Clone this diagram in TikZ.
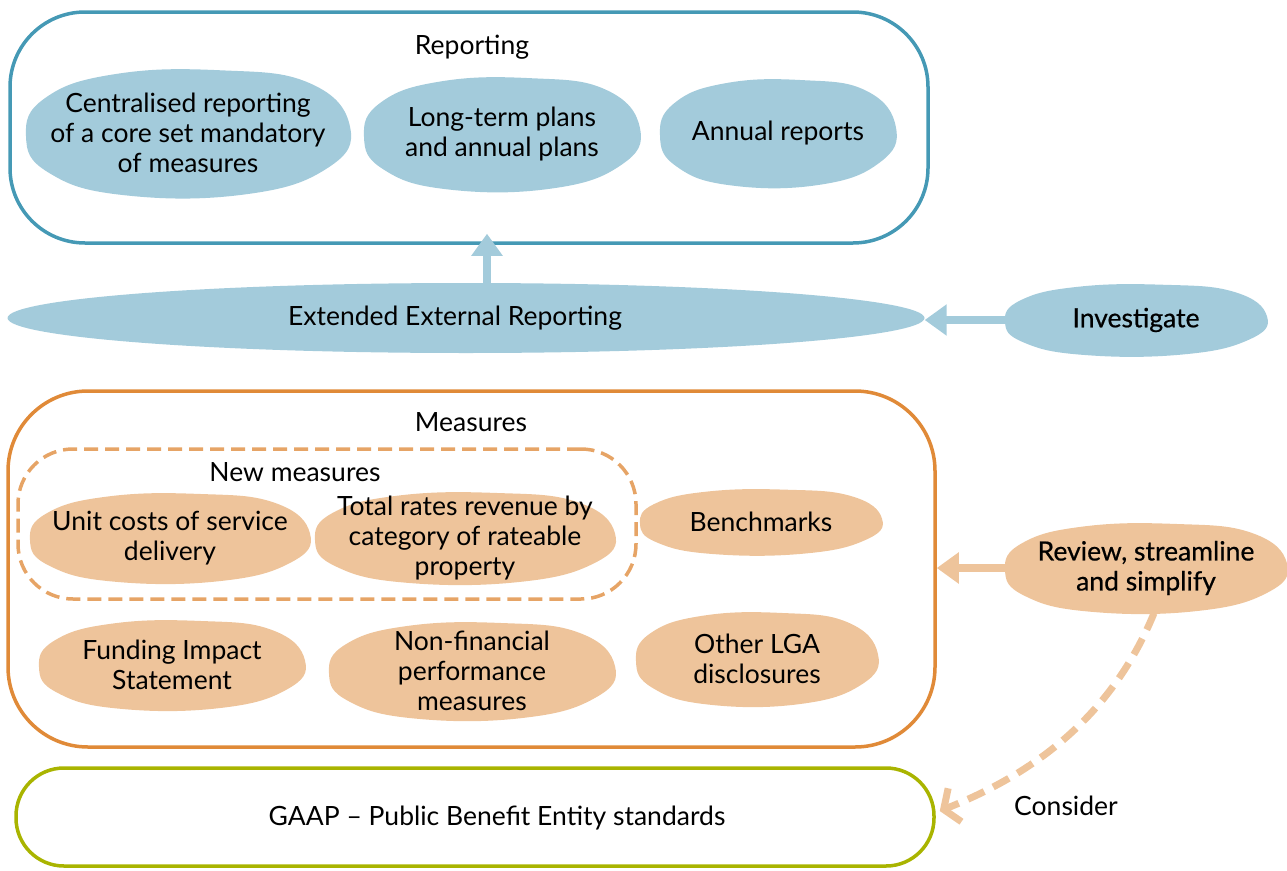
\documentclass[tikz,border=0pt]{standalone}
\usepackage{fontspec}
\setmainfont{Lato}
\newfontfamily\medfont[FakeBold=0.6]{Lato}
\usetikzlibrary{arrows.meta,shapes.geometric,calc}
\definecolor{bfill}{HTML}{A3CBDB}
\definecolor{bline}{HTML}{4599B5}
\definecolor{ofill}{HTML}{EEC49B}
\definecolor{oline}{HTML}{E08A38}
\definecolor{odash}{HTML}{E6A466}
\definecolor{gline}{HTML}{A9B400}
\newcommand\myblob[7]{%
  \fill[#6, shift={(#2,#3)}, x=#4pt, y=-#5pt] plot[smooth cycle, tension=0.75] coordinates
    {(-1,0.05) (-0.88,-0.55) (-0.45,-0.92) (0.2,-0.98) (0.75,-0.78) (1,-0.1) (0.86,0.55) (0.35,0.96) (-0.4,0.97) (-0.86,0.62)};
  \node[txt, minimum width=2*#4pt, minimum height=2*#5pt] (#1) at (#2,#3) {#7};
}
\begin{document}
\begin{tikzpicture}[x=1pt,y=-1pt,
  txt/.style={font=\fontsize{26.5}{30}\selectfont, align=center, inner sep=0pt},
  box/.style={draw, line width=3.5pt, minimum width=#1, inner sep=0pt},
  barrow/.style={draw=bfill, line width=8pt, -{Triangle[width=30pt,length=22pt]}, fill=bfill},
  oarrow/.style={draw=ofill, line width=8pt, -{Triangle[width=30pt,length=22pt]}, fill=ofill},
  darrow/.style={draw=ofill, line width=7pt, dash pattern=on 18pt off 10pt, -{Straight Barb[length=12pt,width=36pt]}}]
\useasboundingbox (0,0) rectangle (1287,870);
% containers
\node[box=918pt, draw=bline, minimum height=231pt, rounded corners=75pt] (rep) at (469,127.5) {};
\node[box=927pt, draw=oline, minimum height=356pt, rounded corners=80pt] (meas) at (471.5,569) {};
\node[box=618pt, draw=odash, minimum height=150pt, rounded corners=55pt, dash pattern=on 14pt off 7pt] (newm) at (327,524) {};
\node[box=918pt, draw=gline, minimum height=98pt, rounded corners=48pt] (gaap) at (475,817) {};
% labels
\node[txt] (lrep) at (472,47) {Reporting};
\node[txt] (lmeas) at (471,422) {Measures};
\node[txt] (lnew) at (295,472) {New measures};
\node[txt] (lgaap) at (497,818) {GAAP – Public Benefit Entity standards};
\node[txt] (lcons) at (1066,806) {Consider};
% extended external reporting
\node[ellipse, fill=bfill, minimum width=917pt, minimum height=70pt, inner sep=0pt, font=\fontsize{26.5}{30}\selectfont] (ext) at (466,318) {Extended External Reporting\hspace*{22pt}};
% blue blobs
\myblob{cent}{188}{133}{162}{64}{bfill}{Centralised reporting\\of a core set mandatory\\of measures}
\myblob{lt}{502}{134}{138}{57}{bfill}{Long-term plans\\and annual plans}
\myblob{ann}{778}{133}{118}{54}{bfill}{Annual reports}
\myblob{inv}{1136}{320}{131}{36}{bfill}{\medfont Investigate}
% orange blobs
\myblob{unit}{170}{538}{140}{45}{ofill}{Unit costs of service\\delivery}
\myblob{tot}{465}{538}{150}{46}{ofill}{Total rates revenue by\\category of rateable\\property}
\myblob{bench}{761}{522}{121}{33}{ofill}{Benchmarks}
\myblob{fund}{172}{665}{133}{45}{ofill}{Funding Impact\\Statement}
\myblob{nonf}{472}{671}{143}{49}{ofill}{Non-financial\\performance\\measures}
\myblob{oth}{757}{659}{121}{47}{ofill}{Other LGA\\disclosures}
\myblob{rev}{1146}{568}{141}{45}{ofill}{\medfont Review, streamline\\\medfont and simplify}
% arrows
\draw[barrow] (inv.west) -- (inv.west -| ext.east);
\draw[barrow] ([xshift=21pt]ext.north) -- ([xshift=18pt,yshift=11pt]rep.south);
\draw[oarrow] (rev.west) -- (rev.west -| meas.east);
\draw[darrow] ([xshift=8pt]rev.south) .. controls (1110,720) and (1030,775) .. ([xshift=4pt,yshift=6pt]gaap.east);
\end{tikzpicture}
\end{document}
